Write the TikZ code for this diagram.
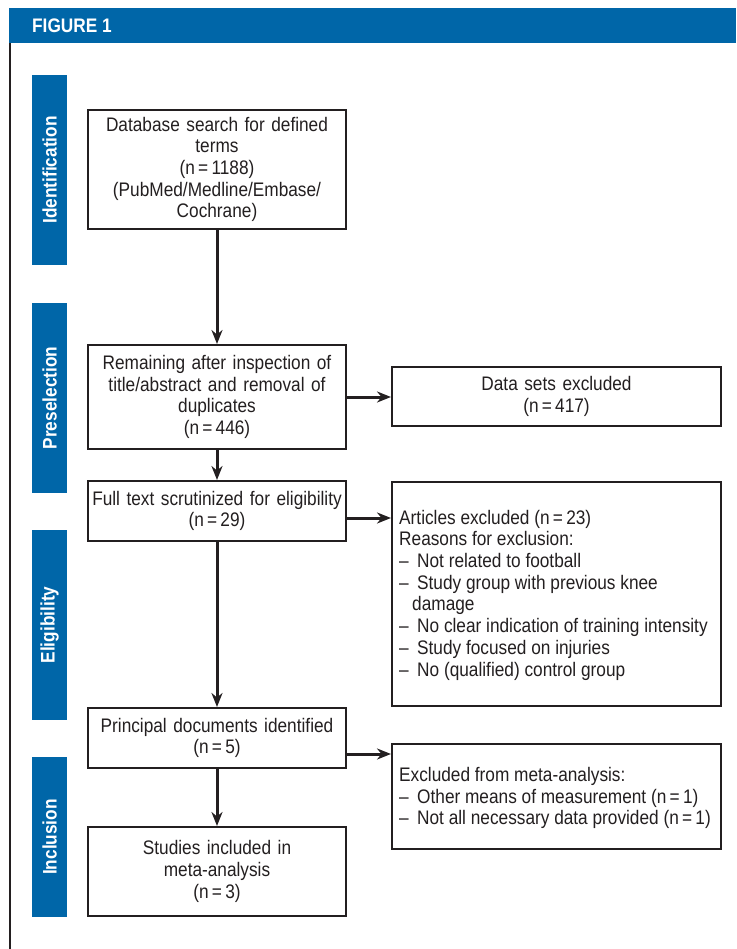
\documentclass[tikz,border=0pt]{standalone}
\usepackage{fontspec}
\setmainfont{Liberation Sans}[FakeStretch=0.88]
\usetikzlibrary{arrows.meta}
\definecolor{hdrblue}{RGB}{0,102,168}
\definecolor{ink}{RGB}{35,31,32}
\tikzset{
  every node/.style={font=\fontsize{19.6}{21.7}\selectfont, text=ink},
  flowbox/.style={draw=ink, line width=2pt, fill=white, inner sep=0pt,
    minimum width=256pt, text width=258pt, align=center},
  plainbox/.style={draw=ink, line width=2pt, fill=white, inner sep=0pt,
    minimum width=329pt},
  boxtext/.style={anchor=west, inner sep=0pt, align=left},
  phase/.style={fill=hdrblue, rotate=90, minimum height=35pt, inner sep=0pt,
    text=white, font=\fontsize{19.6}{21.7}\selectfont\bfseries},
  flow/.style={draw=ink, line width=3pt, -{Stealth[length=14pt,width=11pt]}},
}
\newcommand{\dashitem}{\makebox[18pt][l]{–}}
\begin{document}
\begin{tikzpicture}[x=1pt,y=-1pt]
\useasboundingbox (0,0) rectangle (736,949);
% header and frame
\node[fill=hdrblue, minimum width=727pt, minimum height=35pt, inner sep=0pt, anchor=north west] (hdr) at (9,8) {};
\node[anchor=west, text=white, font=\fontsize{19.6}{21.7}\selectfont\bfseries, inner sep=0pt] (figlbl) at (32,26) {FIGURE 1};
\coordinate (frametop) at (10,43);
\coordinate (framebot) at (10,949);
\draw[ink, line width=2pt] (frametop) -- (framebot);
% phases
\node[phase, minimum width=190pt] (ph1) at (49.5,170) {Identification};
\node[phase, minimum width=190pt] (ph2) at (49.5,398) {Preselection};
\node[phase, minimum width=190pt] (ph3) at (49.5,625) {Eligibility};
\node[phase, minimum width=160pt] (ph4) at (49.5,837) {Inclusion};
% main boxes
\node[flowbox, minimum height=119pt] (b1) at (217,169.5) {Database search for defined\\terms\\(n\,=\,1188)\\(PubMed/Medline/Embase/\\Cochrane)};
\node[flowbox, minimum height=104pt] (b2) at (217,397) {Remaining after inspection of\\title/abstract and removal of\\duplicates\\(n\,=\,446)};
\node[flowbox, minimum height=60pt] (b3) at (217,511) {Full text scrutinized for eligibility\\(n\,=\,29)};
\node[flowbox, minimum height=60pt] (b4) at (217,738) {Principal documents identified\\(n\,=\,5)};
\node[flowbox, minimum height=89pt] (b5) at (217,871.5) {Studies included in\\meta-analysis\\(n\,=\,3)};
% side boxes
\node[flowbox, minimum width=329pt, text width=329pt, minimum height=59pt] (r1) at (556.5,396.5) {Data sets excluded\\(n\,=\,417)};
\node[plainbox, minimum height=224pt] (r2) at (556.5,594) {};
\node[boxtext] (r2t) at ([xshift=8pt,yshift=-1pt]r2.west) {Articles excluded (n\,=\,23)\\Reasons for exclusion:\\\dashitem Not related to football\\\dashitem Study group with previous knee\\\hspace*{13pt}damage\\\dashitem No clear indication of training intensity\\\dashitem Study focused on injuries\\\dashitem No (qualified) control group};
\node[plainbox, minimum height=105pt] (r3) at (556.5,796.5) {};
\node[boxtext] (r3t) at ([xshift=8pt,yshift=-1.5pt]r3.west) {Excluded from meta-analysis:\\\dashitem Other means of measurement (n\,=\,1)\\\dashitem Not all necessary data provided (n\,=\,1)};
% arrows
\draw[flow] (b1) -- (b2);
\draw[flow] (b2) -- (b3);
\draw[flow] (b3) -- (b4);
\draw[flow] (b4) -- (b5);
\draw[flow] (b2.east) -- (b2.east -| r1.west);
\coordinate (a3s) at ([yshift=-7pt]b3.east);
\draw[flow] (a3s) -- (a3s -| r2.west);
\coordinate (a4s) at ([yshift=-16pt]b4.east);
\draw[flow] (a4s) -- (a4s -| r3.west);
\end{tikzpicture}
\end{document}
